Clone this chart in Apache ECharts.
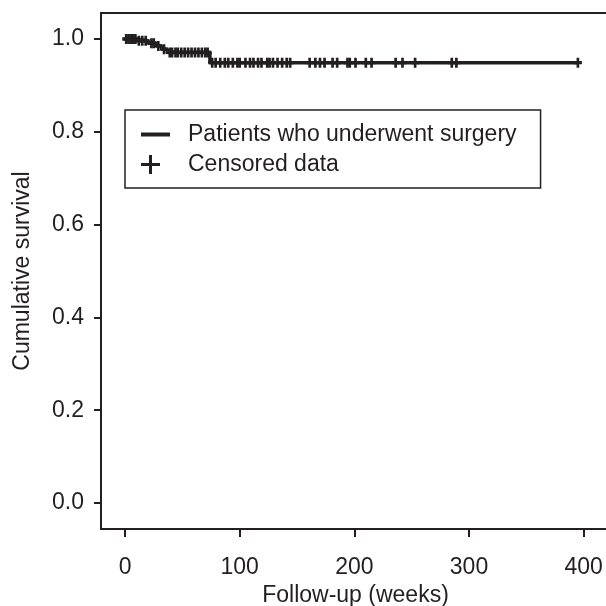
<!DOCTYPE html>
<html>
<head>
<meta charset="utf-8">
<script src="https://cdn.jsdelivr.net/npm/echarts@6/dist/echarts.min.js"></script>
<style>
html,body{margin:0;padding:0;background:#fff;}
#chart{width:606px;height:606px;}
</style>
</head>
<body>
<div id="chart"></div>
<script>
// Kaplan–Meier curve (weeks, cumulative survival)
const kmTimes = [0, 10, 20, 27, 32, 37, 74, 395];
const kmSurv  = [1.0, 0.996, 0.991, 0.985, 0.978, 0.971, 0.949, 0.949];

// Censored observations (weeks, survival level at that time)
const censorTimes = [1, 3, 5, 7, 9, 12, 15, 18, 23, 25, 29, 34,
  39, 41, 44, 46, 49, 52, 55, 58, 61, 64, 67, 70, 72,
  76, 79, 83, 87, 90, 94, 98, 100, 105, 109, 112, 116, 119, 124, 126, 129, 133, 137, 141, 144,
  161, 166, 170, 174, 181, 185, 194, 196, 201, 210, 215, 236, 242, 253, 285, 289, 395];
const censorSurv = [1.0, 1.0, 1.0, 1.0, 1.0, 0.996, 0.996, 0.996, 0.991, 0.991, 0.985, 0.978,
  0.971, 0.971, 0.971, 0.971, 0.971, 0.971, 0.971, 0.971, 0.971, 0.971, 0.971, 0.971, 0.971,
  0.949, 0.949, 0.949, 0.949, 0.949, 0.949, 0.949, 0.949, 0.949, 0.949, 0.949, 0.949, 0.949, 0.949, 0.949, 0.949, 0.949, 0.949, 0.949, 0.949,
  0.949, 0.949, 0.949, 0.949, 0.949, 0.949, 0.949, 0.949, 0.949, 0.949, 0.949, 0.949, 0.949, 0.949, 0.949, 0.949, 0.949];

const xTicks = [0, 100, 200, 300, 400];
const yTicks = [0, 0.2, 0.4, 0.6, 0.8, 1.0];

const ink = '#231f20';
const font = 'Liberation Sans, Arial, Helvetica, sans-serif';
const fs = 23;
const plusPath = 'path://M3,0H6V3H9V6H6V9H3V6H0V3H3Z';

const chart = echarts.init(document.getElementById('chart'));
chart.setOption({
  animation: false,
  backgroundColor: '#fff',
  grid: {
    left: 101, top: 13, right: -4, bottom: 77,
    outerBoundsMode: 'none', containLabel: false,
    show: true, borderColor: ink, borderWidth: 2, backgroundColor: 'transparent'
  },
  legend: {
    orient: 'vertical',
    left: 125, top: 110,
    padding: [13, 24, 12, 16],
    itemWidth: 29, itemHeight: 19, itemGap: 7,
    borderColor: ink, borderWidth: 1.5, borderRadius: 0,
    backgroundColor: '#fff',
    textStyle: { color: ink, fontSize: fs, fontFamily: font, padding: [0, 0, 0, 13] },
    data: [
      { name: 'Patients who underwent surgery', icon: 'path://M0,7.5H29V11.5H0Z M0,0L0,0.01 M0,19L0,19.01' },
      { name: 'Censored data', icon: 'path://M0,8H8V0H11V8H19V11H11V19H8V11H0Z M29,9L29,9.01' }
    ]
  },
  xAxis: {
    type: 'value', min: -21, max: 423,
    name: 'Follow-up (weeks)', nameLocation: 'middle', nameGap: 52,
    nameTextStyle: { color: ink, fontSize: fs, fontFamily: font },
    axisLine: { show: true, onZero: false, lineStyle: { color: ink, width: 2 } },
    axisTick: { show: true, length: 8, lineStyle: { color: ink, width: 2 }, customValues: xTicks },
    axisLabel: { color: ink, fontSize: fs, fontFamily: font, margin: 27, customValues: xTicks },
    splitLine: { show: false }
  },
  yAxis: {
    type: 'value', min: -0.056, max: 1.056,
    name: 'Cumulative survival', nameLocation: 'middle', nameGap: 67,
    nameTextStyle: { color: ink, fontSize: fs, fontFamily: font },
    axisLine: { show: true, onZero: false, lineStyle: { color: ink, width: 2 } },
    axisTick: { show: true, length: 7, lineStyle: { color: ink, width: 2 }, customValues: yTicks },
    axisLabel: { color: ink, fontSize: fs, fontFamily: font, margin: 17, customValues: yTicks,
      formatter: v => v.toFixed(1) },
    splitLine: { show: false }
  },
  series: [
    {
      name: 'Patients who underwent surgery',
      type: 'line', step: 'end', symbol: 'none',
      lineStyle: { color: ink, width: 3.5 },
      itemStyle: { color: ink },
      data: kmTimes.map((t, i) => [t, kmSurv[i]]),
      z: 2
    },
    {
      name: 'Censored data',
      type: 'scatter', symbol: plusPath, symbolSize: [8, 10],
      itemStyle: { color: ink, opacity: 1 },
      data: censorTimes.map((t, i) => [t, censorSurv[i]]),
      z: 3
    }
  ]
});
</script>
</body>
</html>
